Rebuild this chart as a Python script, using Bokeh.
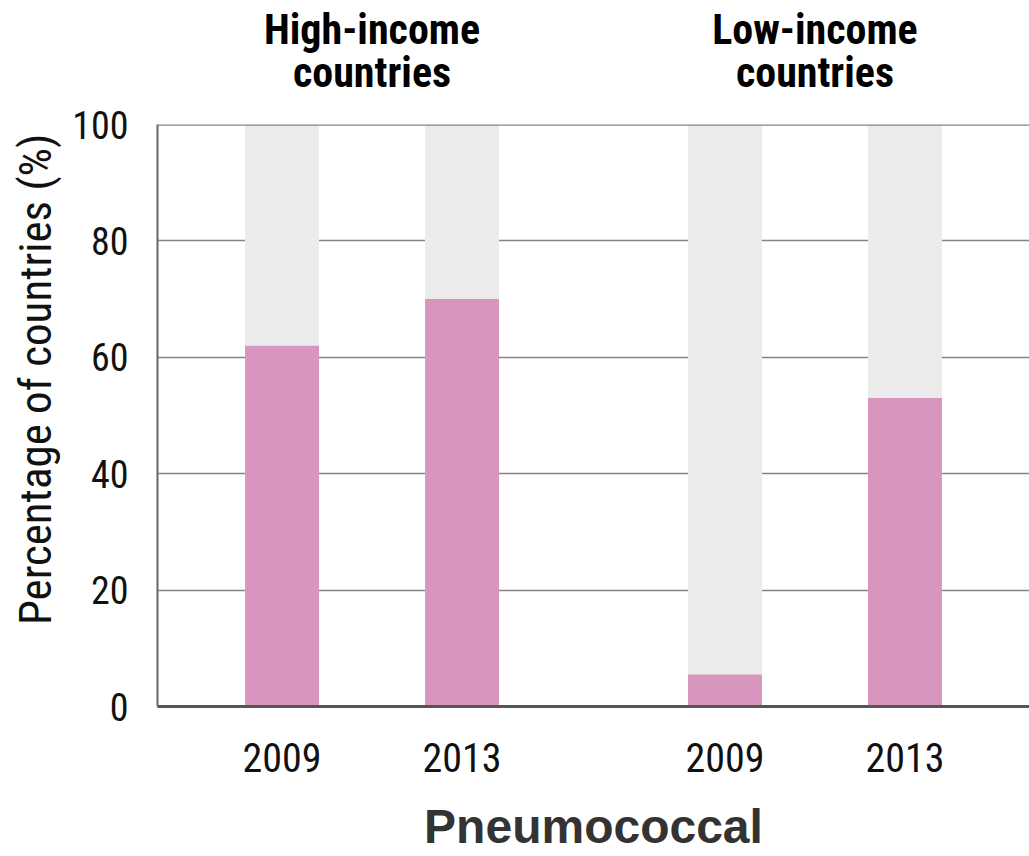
from bokeh.plotting import figure
from bokeh.models import (FactorRange, Range1d, CategoricalAxis, ColumnDataSource,
                          FixedTicker, Span)
from bokeh.embed import file_html
from bokeh.resources import INLINE

# ---- data ----
groups = ["High-income\ncountries", "Low-income\ncountries"]
years = ["2009", "2013"]
values_high = [62, 70]
values_low = [5.5, 53]
scale_max = 100
y_ticks = [0, 20, 40, 60, 80, 100]
x_title = "Pneumococcal"
y_title = "Percentage of countries (%)"

factors = [(g, y) for g in groups for y in years]
values = values_high + values_low
source = ColumnDataSource(dict(x=factors, value=values, full=[scale_max] * len(factors)))

NARROW = "Roboto Condensed, DejaVu Sans Condensed, Open Sans"
PINK = "#d896be"

x_range = FactorRange(*factors, group_padding=0.461, factor_padding=0.0,
                      range_padding=0.192, range_padding_units="absolute")
p = figure(width=1029, height=856, x_range=x_range, y_range=Range1d(0, scale_max),
           output_backend="svg", toolbar_location=None,
           min_border_left=157, min_border_right=0, min_border_top=124, min_border_bottom=150)
p.outline_line_color = None
p.background_fill_color = "white"

# background (full-scale) bars and value bars
p.vbar(x="x", top="full", bottom=0, width=0.411, source=source,
       fill_color="#ebebeb", line_color=None)
p.vbar(x="x", top="value", bottom=0, width=0.411, source=source,
       fill_color=PINK, line_color=None)

# grid
p.xgrid.grid_line_color = None
p.ygrid.ticker = FixedTicker(ticks=y_ticks)
p.ygrid.grid_line_color = "#858585"
p.ygrid.grid_line_width = 1.5
p.add_layout(Span(location=scale_max, dimension="width", line_color="#858585",
                  line_width=2.5, level="overlay"))

# y axis
ya = p.yaxis[0]
ya.ticker = FixedTicker(ticks=y_ticks)
ya.axis_line_color = "#666666"
ya.axis_line_width = 2
ya.major_tick_line_color = None
ya.major_tick_out = 0
ya.major_tick_in = 0
ya.minor_tick_line_color = None
ya.major_label_standoff = 29
ya.major_label_text_font = NARROW
ya.major_label_text_font_size = "38px"
ya.major_label_text_color = "#111111"
# leading no-break spaces lift the title a little above the frame centre, as in the original
ya.axis_label = "\u00a0" * 7 + y_title
ya.axis_label_text_font = NARROW
ya.axis_label_text_font_size = "45px"
ya.axis_label_text_font_style = "normal"
ya.axis_label_text_color = "#111111"
ya.axis_label_standoff = 7

# bottom x axis: years
xa = p.xaxis[0]
xa.axis_line_color = "#555555"
xa.axis_line_width = 3
xa.major_tick_line_color = None
xa.major_tick_out = 0
xa.major_tick_in = 0
xa.minor_tick_line_color = None
xa.major_label_standoff = 36
xa.major_label_text_font = NARROW
xa.major_label_text_font_size = "40px"
xa.major_label_text_color = "#111111"
xa.group_text_font_size = "1px"
xa.group_text_color = None
xa.separator_line_color = None
xa.axis_label = x_title
xa.axis_label_text_font = "Liberation Sans"
xa.axis_label_text_font_style = "bold"
xa.axis_label_text_font_size = "48px"
xa.axis_label_text_color = "#333333"
xa.axis_label_standoff = 25

# top axis: group headers
ta = CategoricalAxis()
ta.axis_line_color = None
ta.major_tick_line_color = None
ta.major_tick_out = 0
ta.major_tick_in = 0
ta.minor_tick_line_color = None
ta.major_label_text_font_size = "1px"
ta.major_label_text_color = None
ta.major_label_standoff = 28
ta.separator_line_color = None
ta.group_text_font = NARROW
ta.group_text_font_style = "bold"
ta.group_text_font_size = "42px"
ta.group_text_line_height = 0.86
ta.group_text_color = "#000000"
p.add_layout(ta, "above")

open("out.html", "w").write(file_html(p, INLINE))
